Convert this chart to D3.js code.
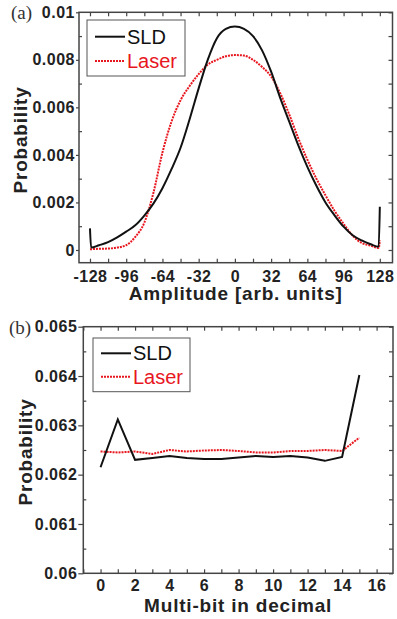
<!DOCTYPE html>
<html>
<head>
    <meta charset="utf-8">
    <title>SLD vs Laser</title>
    <script type="text/javascript" src="https://d3js.org/d3.v7.min.js"></script>
    <style>
        body { margin: 0; background: #fff; }
        .tick text { font-family: "Liberation Sans", Arial, sans-serif; font-weight: bold; fill: #222; letter-spacing: 0.5px; }
        .tick line { stroke: #444; stroke-width: 1.2; }
    </style>
</head>
<body>
    <div id="chart"></div>
    <script>
        // (a) amplitude histogram
        var ampSLD = [-128, -127, -120, -112, -104, -96, -88, -80, -72, -64, -56, -48, -40, -32, -24, -16, -8, 0,
                      8, 16, 24, 32, 40, 48, 56, 64, 72, 80, 88, 96, 104, 112, 120, 127, 128];
        var probSLD = [0.00091, 0.00010, 0.00020, 0.00033, 0.00053, 0.00077, 0.00104, 0.00145, 0.00195, 0.0026, 0.0034, 0.0043, 0.0055, 0.0068, 0.0080, 0.0089, 0.0093, 0.0094,
                       0.0093, 0.0090, 0.0084, 0.0075, 0.0064, 0.0054, 0.0044, 0.0035, 0.0027, 0.0020, 0.00146, 0.00098, 0.00062, 0.0004, 0.00024, 0.00014, 0.00182];
        var ampLaser = [-128, -120, -112, -104, -96, -88, -80, -72, -64, -56, -48, -40, -32, -24, -16, -8, 0,
                        8, 16, 24, 32, 40, 48, 56, 64, 72, 80, 88, 96, 104, 112, 120, 127, 128];
        var probLaser = [0.00003, 0.00005, 0.00006, 0.0001, 0.0002, 0.00055, 0.00115, 0.0024, 0.0041, 0.0054, 0.0063, 0.0069, 0.0074, 0.0078, 0.0080, 0.00815, 0.0082,
                         0.00818, 0.0080, 0.0077, 0.0073, 0.0066, 0.0057, 0.0047, 0.0038, 0.0030, 0.0023, 0.00165, 0.0011, 0.0006, 0.0003, 0.00018, 0.00008, 0.0004];
        var ampTicks = [-128, -96, -64, -32, 0, 32, 64, 96, 128];
        var ampMinor = [-112, -80, -48, -16, 16, 48, 80, 112];
        var probTicksA = [0, 0.002, 0.004, 0.006, 0.008, 0.01];
        var probLabelsA = ["0", "0.002", "0.004", "0.006", "0.008", "0.01"];
        var probMinorA = [0.001, 0.003, 0.005, 0.007, 0.009];

        // (b) multi-bit histogram
        var bitIndex = [0, 1, 2, 3, 4, 5, 6, 7, 8, 9, 10, 11, 12, 13, 14, 15];
        var bitSLD = [0.06215, 0.06312, 0.0623, 0.06234, 0.06238, 0.06234, 0.06232, 0.06232, 0.06235, 0.06238, 0.06236, 0.06238, 0.06235, 0.06228, 0.06236, 0.06402];
        var bitLaser = [0.06247, 0.06245, 0.06247, 0.06242, 0.0625, 0.06247, 0.06249, 0.0625, 0.06248, 0.06245, 0.06245, 0.06248, 0.06248, 0.0625, 0.06248, 0.06275];
        var bitTicks = [0, 2, 4, 6, 8, 10, 12, 14, 16];
        var bitMinor = [-1, 1, 3, 5, 7, 9, 11, 13, 15];
        var probTicksB = [0.06, 0.061, 0.062, 0.063, 0.064, 0.065];
        var probLabelsB = ["0.06", "0.061", "0.062", "0.063", "0.064", "0.065"];
        var probMinorB = [0.0605, 0.0615, 0.0625, 0.0635, 0.0645];

        var seriesNames = ["SLD", "Laser"];
        var red = "#e8161e";

        var svg = d3.select("#chart").append("svg")
            .attr("width", 397)
            .attr("height", 619)
            .style("font-family", "'Liberation Sans', Arial, sans-serif");

        function zip(xs, ys) {
            return xs.map(function(d, i) { return {x: d, y: ys[i]}; });
        }

        function drawPanel(p) {
            var x = d3.scaleLinear().domain(p.xDomain).range([p.left, p.right]);
            var y = d3.scaleLinear().domain(p.yDomain).range([p.bottom, p.top]);
            var w = p.right - p.left, h = p.bottom - p.top;

            // left: major labels with outward ticks, minor inward
            svg.append("g")
                .attr("transform", "translate(" + p.left + ",0)")
                .call(d3.axisLeft(y).tickValues(p.yTicks)
                    .tickFormat(function(d, i) { return p.yLabels[i]; })
                    .tickSizeInner(p.leftTick).tickSizeOuter(0).tickPadding(1))
                .call(function(g) { g.select(".domain").remove(); })
                .selectAll("text").style("font-size", "16px");
            svg.append("g")
                .attr("transform", "translate(" + p.left + ",0)")
                .call(d3.axisLeft(y).tickValues(p.yMinor).tickFormat("").tickSizeInner(-3).tickSizeOuter(0))
                .call(function(g) { g.select(".domain").remove(); });

            // right: all inward
            svg.append("g")
                .attr("transform", "translate(" + p.right + ",0)")
                .call(d3.axisRight(y).tickValues(p.yTicks.concat(p.yMinor)).tickFormat("").tickSizeInner(-4).tickSizeOuter(0))
                .call(function(g) { g.select(".domain").remove(); });

            // bottom: labels on majors, inward ticks (plain hyphen for negatives)
            svg.append("g")
                .attr("transform", "translate(0," + p.bottom + ")")
                .call(d3.axisBottom(x).tickValues(p.xTicks)
                    .tickFormat(function(d) { return String(d); })
                    .tickSizeInner(-4).tickSizeOuter(0).tickPadding(p.xPad))
                .call(function(g) { g.select(".domain").remove(); })
                .selectAll("text").style("font-size", "16px");
            svg.append("g")
                .attr("transform", "translate(0," + p.bottom + ")")
                .call(d3.axisBottom(x).tickValues(p.xMinor).tickFormat("").tickSizeInner(-4).tickSizeOuter(0))
                .call(function(g) { g.select(".domain").remove(); });

            // top
            svg.append("g")
                .attr("transform", "translate(0," + p.top + ")")
                .call(d3.axisTop(x).tickValues(p.xTicks.concat(p.xMinor)).tickFormat("").tickSizeInner(-4).tickSizeOuter(0))
                .call(function(g) { g.select(".domain").remove(); });

            // frame
            svg.append("rect")
                .attr("x", p.left).attr("y", p.top)
                .attr("width", w).attr("height", h)
                .attr("fill", "none")
                .attr("stroke", "#444")
                .attr("stroke-width", 1.5);

            var line = d3.line()
                .x(function(d) { return x(d.x); })
                .y(function(d) { return y(d.y); })
                .curve(p.curve);

            svg.append("path")
                .datum(zip(p.laserX, p.laserY))
                .attr("fill", "none")
                .attr("stroke", red)
                .attr("stroke-width", 2)
                .attr("stroke-dasharray", "2,1")
                .attr("d", line);

            svg.append("path")
                .datum(zip(p.sldX, p.sldY))
                .attr("fill", "none")
                .attr("stroke", "#111")
                .attr("stroke-width", 2)
                .attr("d", line);

            // axis titles
            svg.append("text")
                .attr("x", (p.left + p.right) / 2)
                .attr("y", p.xTitleY)
                .attr("text-anchor", "middle")
                .style("font-size", "19px")
                .style("font-weight", "bold")
                .style("letter-spacing", "0.8px")
                .attr("fill", "#222")
                .text(p.xTitle);

            svg.append("text")
                .attr("transform", "translate(" + p.yTitleX + "," + p.yTitleCY + ") rotate(-90)")
                .attr("text-anchor", "middle")
                .style("font-size", "19px")
                .style("font-weight", "bold")
                .style("letter-spacing", "0.8px")
                .attr("fill", "#222")
                .text("Probability");

            // panel letter
            svg.append("text")
                .attr("x", p.tagX).attr("y", p.tagY)
                .style("font-family", "'Liberation Serif', 'Times New Roman', serif")
                .style("font-size", "19px")
                .attr("fill", "#333")
                .text(p.tag);

            // legend
            var lg = p.legend;
            svg.append("rect")
                .attr("x", lg.x).attr("y", lg.y)
                .attr("width", lg.w).attr("height", lg.h)
                .attr("fill", "#fff")
                .attr("stroke", "#555")
                .attr("stroke-width", 1);
            seriesNames.forEach(function(name, i) {
                var ly = lg.rowY[i];
                svg.append("line")
                    .attr("x1", lg.x + 8).attr("x2", lg.x + 38)
                    .attr("y1", ly).attr("y2", ly)
                    .attr("stroke", i === 0 ? "#111" : red)
                    .attr("stroke-width", 2)
                    .attr("stroke-dasharray", i === 0 ? null : "2,1");
                svg.append("text")
                    .attr("x", lg.x + 40)
                    .attr("y", ly + 7)
                    .style("font-size", "20px")
                    .attr("fill", i === 0 ? "#111" : red)
                    .text(name);
            });
        }

        drawPanel({
            left: 79, right: 392.5, top: 12.3, bottom: 262.7,
            xDomain: [-137.7, 139.2], yDomain: [-0.000535, 0.01],
            xTicks: ampTicks, xMinor: ampMinor,
            yTicks: probTicksA, yLabels: probLabelsA, yMinor: probMinorA,
            leftTick: 3, xPad: 7.5,
            sldX: ampSLD, sldY: probSLD, laserX: ampLaser, laserY: probLaser,
            curve: d3.curveMonotoneX,
            xTitle: "Amplitude [arb. units]", xTitleY: 300,
            yTitleX: 26.7, yTitleCY: 140,
            tag: "(a)", tagX: 11, tagY: 19,
            legend: {x: 87, y: 20, w: 98, h: 56, rowY: [36.7, 61]}
        });

        drawPanel({
            left: 83.3, right: 393, top: 326.7, bottom: 573.3,
            xDomain: [-1, 16.95], yDomain: [0.06, 0.065],
            xTicks: bitTicks, xMinor: bitMinor,
            yTicks: probTicksB, yLabels: probLabelsB, yMinor: probMinorB,
            leftTick: 5, xPad: 6,
            sldX: bitIndex, sldY: bitSLD, laserX: bitIndex, laserY: bitLaser,
            curve: d3.curveLinear,
            xTitle: "Multi-bit in decimal", xTitleY: 612,
            yTitleX: 31.5, yTitleCY: 452,
            tag: "(b)", tagX: 9, tagY: 334,
            legend: {x: 93, y: 338, w: 97, h: 53.7, rowY: [353.3, 376.7]}
        });
    </script>
</body>
</html>
